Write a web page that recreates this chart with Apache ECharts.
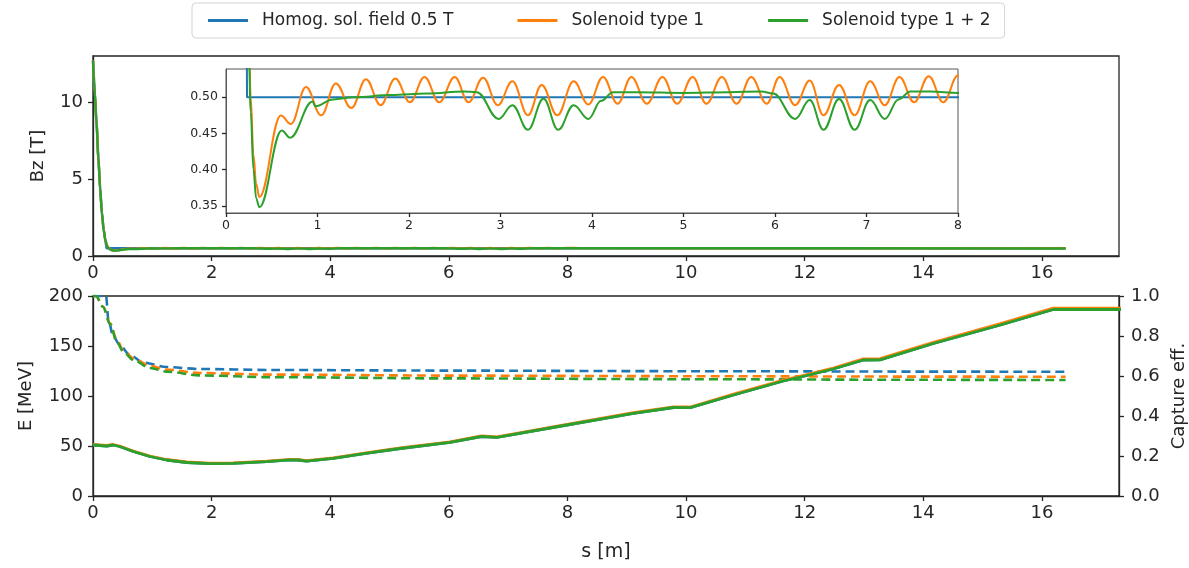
<!DOCTYPE html>
<html>
<head>
<meta charset="utf-8">
<script src="https://cdn.jsdelivr.net/npm/echarts@6/dist/echarts.min.js"></script>
<style>
  html, body { margin: 0; padding: 0; background: #fff; }
  #chart { width: 1189px; height: 568px; }
</style>
</head>
<body>
<div id="chart"></div>
<script>
// ---- Series names ----
const seriesNames = ['Homog. sol. field 0.5 T', 'Solenoid type 1', 'Solenoid type 1 + 2'];

// ---- Bz [T] along s [m] ----
const bzHomog = [
  [0, 12.7], [0.03, 10.6], [0.06, 8.6], [0.09, 6.4], [0.12, 4.4], [0.15, 2.8],
  [0.18, 1.7], [0.2, 1.2], [0.23, 0.5], [16.4, 0.5]
];
const bzType1 = [
  [0, 12.7], [0.03, 10.6], [0.06, 8.6], [0.09, 6.4], [0.12, 4.4], [0.15, 2.8],
  [0.18, 1.7], [0.21, 1.0], [0.24, 0.66], [0.27, 0.5], [0.3, 0.42], [0.33, 0.38],
  [0.364, 0.362], [0.6, 0.4746], [0.71, 0.463], [0.874, 0.514], [1.04, 0.475],
  [1.2, 0.519], [1.37, 0.485], [1.53, 0.525], [1.69, 0.489], [1.85, 0.526],
  [2.01, 0.493], [2.17, 0.528], [2.33, 0.493], [2.5, 0.528], [2.65, 0.493],
  [2.81, 0.527], [2.97, 0.489], [3.13, 0.522], [3.3, 0.475], [3.45, 0.517],
  [3.62, 0.475], [3.8, 0.522], [3.96, 0.49], [4.12, 0.528], [4.28, 0.491],
  [4.43, 0.528], [4.6, 0.491], [4.77, 0.528], [4.93, 0.491], [5.1, 0.528],
  [5.25, 0.491], [5.42, 0.528], [5.58, 0.491], [5.74, 0.528], [5.91, 0.491],
  [6.05, 0.528], [6.22, 0.489], [6.38, 0.523], [6.53, 0.475], [6.7, 0.517],
  [6.87, 0.475], [7.04, 0.522], [7.2, 0.489], [7.36, 0.528], [7.52, 0.493],
  [7.68, 0.529], [7.84, 0.493], [8.0, 0.53], [8.2, 0.51], [12, 0.505], [16.4, 0.5]
];
const bzType12 = [
  [0, 12.7], [0.03, 10.6], [0.06, 8.6], [0.09, 6.4], [0.12, 4.4], [0.15, 2.8],
  [0.18, 1.7], [0.21, 1.0], [0.24, 0.64], [0.27, 0.48], [0.3, 0.4], [0.33, 0.36],
  [0.364, 0.348], [0.61, 0.454], [0.7, 0.444], [0.947, 0.494], [0.975, 0.4875],
  [1.17, 0.497], [1.4, 0.5], [1.8, 0.503], [2.2, 0.505], [2.6, 0.508],
  [2.74, 0.507], [2.98, 0.47], [3.13, 0.489], [3.3, 0.455], [3.47, 0.498],
  [3.63, 0.455], [3.8, 0.489], [3.96, 0.47], [4.1, 0.495], [4.23, 0.507],
  [4.5, 0.507], [5.0, 0.506], [5.5, 0.507], [5.85, 0.508], [5.98, 0.505],
  [6.22, 0.47], [6.38, 0.496], [6.53, 0.455], [6.7, 0.4975], [6.87, 0.455],
  [7.04, 0.496], [7.2, 0.47], [7.35, 0.497], [7.48, 0.508], [7.7, 0.508],
  [8.0, 0.506], [10, 0.505], [16.4, 0.49]
];

// ---- Energy E [MeV] along s [m] ----
const eHomog = [
  [0, 51], [0.23, 50], [0.34, 51], [0.45, 49.5], [0.68, 44.5], [0.96, 39.5],
  [1.24, 36], [1.58, 33.5], [1.97, 32.3], [2.36, 32.7], [2.93, 34.3], [3.32, 36.2],
  [3.45, 36], [3.6, 34.8], [4.05, 37.7], [4.6, 42.7], [5.18, 47.5], [6.02, 53.7],
  [6.55, 59.5], [6.81, 58.7], [7.99, 71], [9.11, 82.7], [9.79, 88.5], [10.07, 88.3],
  [10.8, 101], [11.64, 115], [12.0, 120], [12.48, 127], [12.99, 136], [13.27, 136.2],
  [14.17, 152.5], [15.3, 171], [16.19, 186.5], [17.4, 186.5]
];
const eType1 = [
  [0, 51.5], [0.23, 50.5], [0.34, 51.5], [0.45, 50], [0.68, 45], [0.96, 40],
  [1.24, 36.5], [1.58, 34], [1.97, 32.8], [2.36, 33.2], [2.93, 34.8], [3.32, 36.7],
  [3.45, 36.5], [3.6, 35.3], [4.05, 38.2], [4.6, 43.2], [5.18, 48], [6.02, 54.2],
  [6.55, 60], [6.81, 59.2], [7.99, 71.5], [9.11, 83.3], [9.79, 89.2], [10.07, 89],
  [10.8, 101.8], [11.64, 116], [12.0, 121], [12.48, 128], [12.99, 137.2], [13.27, 137.4],
  [14.17, 153.7], [15.3, 172.3], [16.19, 187.8], [17.4, 187.8]
];
const eType12 = [
  [0, 51], [0.23, 50], [0.34, 51], [0.45, 49.5], [0.68, 44.5], [0.96, 39.5],
  [1.24, 36], [1.58, 33.5], [1.97, 32.3], [2.36, 32.7], [2.93, 34.3], [3.32, 36.2],
  [3.45, 36], [3.6, 34.8], [4.05, 37.7], [4.6, 42.7], [5.18, 47.5], [6.02, 53.7],
  [6.55, 59.5], [6.81, 58.7], [7.99, 71], [9.11, 82.7], [9.79, 88.5], [10.07, 88.3],
  [10.8, 101], [11.64, 115], [12.0, 120], [12.48, 127], [12.99, 136], [13.27, 136.2],
  [14.17, 152.5], [15.3, 171], [16.19, 186.5], [17.4, 186.5]
];

// ---- Capture efficiency along s [m] ----
const effHomog = [
  [0, 1], [0.22, 1], [0.26, 0.88], [0.34, 0.8], [0.45, 0.755], [0.62, 0.705],
  [0.85, 0.667], [1.24, 0.645], [1.8, 0.635], [3, 0.63], [6, 0.627], [10, 0.624],
  [14, 0.622], [16.4, 0.621]
];
const effType1 = [
  [0, 1], [0.05, 1], [0.17, 0.947], [0.29, 0.863], [0.4, 0.78], [0.51, 0.73],
  [0.68, 0.688], [0.96, 0.65], [1.24, 0.632], [1.8, 0.615], [3, 0.607], [6, 0.602],
  [10, 0.599], [14, 0.597], [16.4, 0.596]
];
const effType12 = [
  [0, 1], [0.05, 1], [0.17, 0.945], [0.29, 0.858], [0.4, 0.772], [0.51, 0.722],
  [0.68, 0.68], [0.96, 0.64], [1.24, 0.622], [1.8, 0.603], [3, 0.594], [6, 0.588],
  [10, 0.584], [14, 0.581], [16.4, 0.58]
];

// ---- Tick values ----
const sTicks = [0, 2, 4, 6, 8, 10, 12, 14, 16];
const bzTicks = [0, 5, 10];
const insetSTicks = [0, 1, 2, 3, 4, 5, 6, 7, 8];
const insetBzTicks = [0.35, 0.40, 0.45, 0.50];
const eTicks = [0, 50, 100, 150, 200];
const effTicks = [0.0, 0.2, 0.4, 0.6, 0.8, 1.0];

const colors = ['#1f77b4', '#ff7f0e', '#2ca02c'];
const FONT = 'DejaVu Sans';
const INK = '#262626';

function axisBase(ticks, fmt, fontSize, margin, tickLen) {
  return {
    axisLine: { show: true, onZero: false, lineStyle: { color: INK, width: 1.3 } },
    axisTick: { show: true, customValues: ticks, length: tickLen, lineStyle: { color: INK, width: 1.3 } },
    axisLabel: {
      customValues: ticks, formatter: fmt, color: '#262626',
      fontFamily: FONT, fontSize: fontSize, margin: margin
    },
    splitLine: { show: false }
  };
}

const fmtInt = v => String(Math.round(v));
const fmt1 = v => v.toFixed(1);
const fmt2 = v => v.toFixed(2);

function lineSeries(name, data, color, x, y, extra) {
  return Object.assign({
    type: 'line', name: name, data: data, xAxisIndex: x, yAxisIndex: y,
    showSymbol: false, symbol: 'none', color: color,
    lineStyle: { color: color, width: 2.4 }, clip: true, animation: false
  }, extra || {});
}

const chart = echarts.init(document.getElementById('chart'), null, { renderer: 'canvas' });

const series = [];
// Bz: main panel
[bzHomog, bzType1, bzType12].forEach((d, i) => {
  series.push(lineSeries(seriesNames[i], d, colors[i], 0, 0, { smooth: i === 0 ? false : 0.4, smoothMonotone: 'x' }));
});
// Bz: zoomed inset
[bzHomog, bzType1, bzType12].forEach((d, i) => {
  series.push(lineSeries(seriesNames[i], d, colors[i], 1, 1, {
    smooth: i === 0 ? false : 0.4, smoothMonotone: 'x', lineStyle: { color: colors[i], width: 2 }, z: 5
  }));
});
// Capture efficiency (dashed, right axis)
[effHomog, effType1, effType12].forEach((d, i) => {
  series.push(lineSeries(seriesNames[i], d, colors[i], 2, 3, {
    smooth: 0.3, smoothMonotone: 'x', lineStyle: { color: colors[i], width: 2.6, type: [9, 5] }
  }));
});
// Energy (solid, left axis)
[eHomog, eType1, eType12].forEach((d, i) => {
  series.push(lineSeries(seriesNames[i], d, colors[i], 2, 2, { lineStyle: { color: colors[i], width: 2.8 } }));
});

const option = {
  backgroundColor: '#fff',
  animation: false,
  textStyle: { fontFamily: FONT },
  legend: {
    data: seriesNames,
    icon: 'rect',
    left: 192, top: 3,
    padding: [9, 14, 9, 16],
    itemGap: 64, itemWidth: 40, itemHeight: 3,
    backgroundColor: '#fff', borderColor: '#d4d4d4', borderWidth: 1, borderRadius: 4,
    textStyle: { fontFamily: FONT, fontSize: 17, color: '#262626', padding: [0, 0, 0, 9] }
  },
  grid: [
    { left: 93, top: 56, width: 1026, height: 200, show: true, borderColor: INK, borderWidth: 1.3,
      backgroundColor: '#fff', outerBoundsMode: 'none' },
    { left: 226, top: 69, width: 732, height: 144, show: true, borderColor: '#555', borderWidth: 1,
      backgroundColor: '#fff', z: 4, outerBoundsMode: 'none' },
    { left: 93, top: 296, width: 1026, height: 200, show: true, borderColor: INK, borderWidth: 1.3,
      backgroundColor: '#fff', outerBoundsMode: 'none' }
  ],
  xAxis: [
    Object.assign({ type: 'value', gridIndex: 0, min: 0, max: 17.3 }, axisBase(sTicks, fmtInt, 18, 8, 5)),
    Object.assign({ type: 'value', gridIndex: 1, min: 0, max: 8, z: 5 }, axisBase(insetSTicks, fmtInt, 12.5, 6, 4),
      { axisLine: { show: true, onZero: false, lineStyle: { color: '#555', width: 1 } } }),
    Object.assign({ type: 'value', gridIndex: 2, min: 0, max: 17.3,
      name: 's [m]', nameLocation: 'middle', nameGap: 47,
      nameTextStyle: { fontFamily: FONT, fontSize: 19, color: '#262626' } }, axisBase(sTicks, fmtInt, 18, 8, 5))
  ],
  yAxis: [
    Object.assign({ type: 'value', gridIndex: 0, min: 0, max: 13,
      name: 'Bz [T]', nameLocation: 'middle', nameGap: 46,
      nameTextStyle: { fontFamily: FONT, fontSize: 18, color: '#262626' } }, axisBase(bzTicks, fmtInt, 18, 10, 5)),
    Object.assign({ type: 'value', gridIndex: 1, min: 0.34, max: 0.539, z: 5 }, axisBase(insetBzTicks, fmt2, 12.5, 8, 4),
      { axisLine: { show: true, onZero: false, lineStyle: { color: '#555', width: 1 } } }),
    Object.assign({ type: 'value', gridIndex: 2, min: 0, max: 200,
      name: 'E [MeV]', nameLocation: 'middle', nameGap: 58,
      nameTextStyle: { fontFamily: FONT, fontSize: 18, color: '#262626' } }, axisBase(eTicks, fmtInt, 18, 10, 5)),
    Object.assign({ type: 'value', gridIndex: 2, min: 0, max: 1, position: 'right',
      name: 'Capture eff.', nameLocation: 'middle', nameGap: 51,
      nameTextStyle: { fontFamily: FONT, fontSize: 18, color: '#262626' } }, axisBase(effTicks, fmt1, 18, 12, 5))
  ],
  series: series
};

chart.setOption(option);
</script>
</body>
</html>
